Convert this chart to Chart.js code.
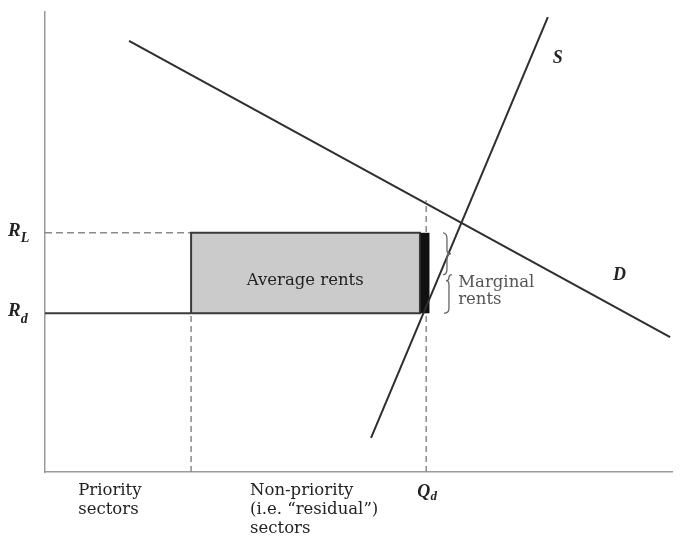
<!DOCTYPE html>
<html>
<head>
<meta charset="utf-8">
<script src="https://cdn.jsdelivr.net/npm/chart.js@4.4.0/dist/chart.umd.min.js"></script>
<style>
  html, body { margin: 0; padding: 0; background: #fff; }
  #wrap { width: 685px; height: 543px; }
</style>
</head>
<body>
<div id="wrap"><canvas id="rentChart"></canvas></div>
<script>
// curve end points (x = quantity, y = rent)
const demandX = [13.4, 99.7];
const demandY = [93.7, 29.3];
const supplyX = [52.0, 80.2];
const supplyY = [7.4, 98.9];

// rent levels: R_d, R_L
const rentLevels = [34.5, 52];
const rentNames = [['R', 'd'], ['R', 'L']];

// x boundaries: origin, end of priority sectors, end of average-rent box
const sectorBounds = [0, 23.3, 59.8];
const qd = 60.8;
const qdDashTop = 59.1;
const barX = 60.6;

const pts = (xs, ys) => xs.map((x, i) => ({ x: x, y: ys[i] }));

const lineColor = '#2e2e2e';
const dashColor = '#8a8a8a';
const serif = '"DejaVu Serif", "Liberation Serif", serif';
const italicSerif = '"Liberation Serif", serif';

// chart.js paints the first dataset on top, so list top-most marks first
const datasets = [
  // supply
  { data: pts(supplyX, supplyY), borderColor: lineColor, borderWidth: 2 },
  // demand
  { data: pts(demandX, demandY), borderColor: lineColor, borderWidth: 2 },
  // marginal rents bar
  {
    data: pts([barX, barX], [rentLevels[0], rentLevels[1]]),
    borderColor: '#111', borderWidth: 9, borderCapStyle: 'butt'
  },
  // box outline
  {
    data: pts(
      [sectorBounds[1], sectorBounds[1], sectorBounds[2], sectorBounds[2], sectorBounds[1]],
      [rentLevels[0], rentLevels[1], rentLevels[1], rentLevels[0], rentLevels[0]]),
    borderColor: '#3a3a3a', borderWidth: 2
  },
  // R_d solid line
  {
    data: pts([sectorBounds[0], sectorBounds[1]], [rentLevels[0], rentLevels[0]]),
    borderColor: '#3a3a3a', borderWidth: 2
  },
  // R_L dashed guide
  {
    data: pts([sectorBounds[0], sectorBounds[1]], [rentLevels[1], rentLevels[1]]),
    borderColor: dashColor, borderWidth: 1.5, borderDash: [7, 4]
  },
  // dashed vertical at priority boundary
  {
    data: pts([sectorBounds[1], sectorBounds[1]], [0, rentLevels[0]]),
    borderColor: dashColor, borderWidth: 1.5, borderDash: [6, 4]
  },
  // dashed vertical at Q_d
  {
    data: pts([qd, qd], [0, qdDashTop]),
    borderColor: dashColor, borderWidth: 1.5, borderDash: [6, 4]
  },
  // box fill: top edge filled down to the bottom edge (next dataset)
  {
    data: pts([sectorBounds[1], sectorBounds[2]], [rentLevels[1], rentLevels[1]]),
    borderWidth: 0, borderColor: 'rgba(0,0,0,0)',
    backgroundColor: '#cbcbcb', fill: '+1'
  },
  {
    data: pts([sectorBounds[1], sectorBounds[2]], [rentLevels[0], rentLevels[0]]),
    borderWidth: 0, borderColor: 'rgba(0,0,0,0)', fill: false
  }
];

// text annotations placed in data units
const insideLabels = [
  { text: 'Average rents', x: 41.5, y: 41.5, align: 'center', color: '#222' },
  { text: 'Marginal', x: 65.9, y: 41.1, align: 'left', color: '#555' },
  { text: 'rents', x: 65.9, y: 37.4, align: 'left', color: '#555' }
];
const curveLabels = [
  { text: 'S', x: 81.0, y: 90.0 },
  { text: 'D', x: 90.6, y: 42.8 }
];
// below the x axis: x in data units, lines stacked downwards
const axisLabels = [
  { lines: ['Priority', 'sectors'], x: 5.3 },
  { lines: ['Non-priority', '(i.e. \u201cresidual\u201d)', 'sectors'], x: 32.7 }
];

const annotate = {
  id: 'annotate',
  afterDatasetsDraw(chart) {
    const ctx = chart.ctx;
    const sx = chart.scales.x, sy = chart.scales.y;
    const area = chart.chartArea;
    ctx.save();
    ctx.textBaseline = 'middle';

    ctx.font = '16.5px ' + serif;
    insideLabels.forEach(l => {
      ctx.fillStyle = l.color;
      ctx.textAlign = l.align;
      ctx.fillText(l.text, sx.getPixelForValue(l.x), sy.getPixelForValue(l.y));
    });

    ctx.textAlign = 'left';
    ctx.fillStyle = '#222';
    ctx.font = 'italic bold 18px ' + italicSerif;
    curveLabels.forEach(l => {
      ctx.fillText(l.text, sx.getPixelForValue(l.x), sy.getPixelForValue(l.y));
    });

    ctx.fillStyle = '#222';
    ctx.font = '16.5px ' + serif;
    axisLabels.forEach(l => {
      l.lines.forEach((t, i) => {
        ctx.fillText(t, sx.getPixelForValue(l.x), area.bottom + 19 + i * 19);
      });
    });

    // Q_d under the axis
    const qx = sx.getPixelForValue(qd) - 9;
    const qy = area.bottom + 20;
    ctx.font = 'italic bold 18px ' + italicSerif;
    ctx.fillText('Q', qx, qy);
    ctx.font = 'italic bold 13px ' + italicSerif;
    ctx.fillText('d', qx + ctx.measureText('Q').width + 4, qy + 5);

    // R_d and R_L at the left
    rentLevels.forEach((v, i) => {
      const y = sy.getPixelForValue(v);
      ctx.font = 'italic bold 19px ' + italicSerif;
      ctx.fillText(rentNames[i][0], 8, y - 2);
      const w = ctx.measureText(rentNames[i][0]).width;
      ctx.font = 'italic bold 14px ' + italicSerif;
      ctx.fillText(rentNames[i][1], 8 + w, y + 6);
    });

    // braces next to the bar
    const yTop = sy.getPixelForValue(rentLevels[1]);
    const yBot = sy.getPixelForValue(rentLevels[0]);
    const yMid = yTop + (yBot - yTop) * 0.52;
    const bx = sx.getPixelForValue(barX) + 18;
    ctx.strokeStyle = '#666';
    ctx.lineWidth = 1.3;
    // upper brace, tip to the right
    const uTip = (yTop + yMid) / 2;
    ctx.beginPath();
    ctx.moveTo(bx, yTop);
    ctx.quadraticCurveTo(bx + 4, yTop, bx + 4, yTop + 6);
    ctx.lineTo(bx + 4, uTip - 4);
    ctx.quadraticCurveTo(bx + 4, uTip, bx + 8, uTip);
    ctx.quadraticCurveTo(bx + 4, uTip, bx + 4, uTip + 4);
    ctx.lineTo(bx + 4, yMid - 6);
    ctx.quadraticCurveTo(bx + 4, yMid, bx, yMid);
    ctx.stroke();
    // lower brace, tip to the left
    const lx = bx + 9;
    const lTip = yMid + 6;
    ctx.beginPath();
    ctx.moveTo(lx, yMid);
    ctx.quadraticCurveTo(lx - 3, yMid, lx - 3, yMid + 3);
    ctx.quadraticCurveTo(lx - 3, lTip, lx - 6, lTip);
    ctx.quadraticCurveTo(lx - 3, lTip, lx - 3, lTip + 4);
    ctx.lineTo(lx - 3, yBot - 5);
    ctx.quadraticCurveTo(lx - 3, yBot, lx - 8, yBot);
    ctx.stroke();

    ctx.restore();
  }
};

new Chart(document.getElementById('rentChart'), {
  type: 'scatter',
  data: { datasets: datasets.map(d => Object.assign({ showLine: true, pointRadius: 0, tension: 0 }, d)) },
  options: {
    responsive: true,
    maintainAspectRatio: false,
    animation: false,
    layout: { padding: { left: 45, top: 12, right: 13, bottom: 71 } },
    plugins: { legend: { display: false }, tooltip: { enabled: false } },
    scales: {
      x: {
        type: 'linear', min: 0, max: 100,
        grid: { display: false, drawTicks: false },
        ticks: { display: false },
        border: { display: true, color: '#9a9a9a', width: 1.5 }
      },
      y: {
        type: 'linear', min: 0, max: 100,
        grid: { display: false, drawTicks: false },
        ticks: { display: false },
        border: { display: true, color: '#9a9a9a', width: 1.5 }
      }
    }
  },
  plugins: [annotate]
});
</script>
</body>
</html>
